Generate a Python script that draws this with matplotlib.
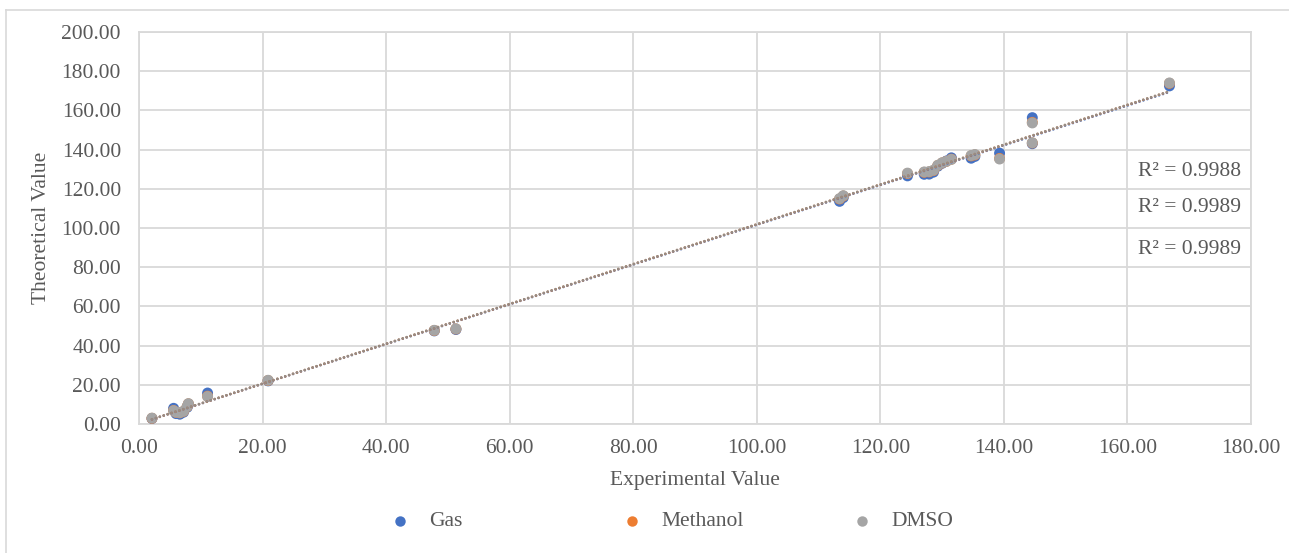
import numpy as np
import matplotlib
matplotlib.use("Agg")
import matplotlib.pyplot as plt
from matplotlib.lines import Line2D

# ---- data ----
experimental = [2.1, 5.6, 6.0, 6.6, 7.2, 7.8, 8.0, 11.1, 20.9, 47.8, 51.3,
                113.4, 114.0, 124.4, 127.1, 127.9, 128.6, 129.3, 130.0, 130.7,
                131.5, 134.7, 135.3, 139.3, 144.6, 144.6, 166.8]
gas = [2.8, 8.0, 5.3, 5.0, 6.0, 8.5, 10.0, 15.8, 22.0, 47.5, 48.2,
       113.6, 115.5, 126.6, 127.4, 127.5, 128.5, 131.5, 133.0, 134.2,
       135.8, 135.6, 136.5, 138.2, 156.3, 143.0, 172.5]
methanol = [2.9, 6.9, 5.9, 5.7, 6.4, 8.9, 10.3, 14.2, 22.2, 47.7, 48.5,
            114.8, 116.3, 127.8, 128.4, 128.6, 129.3, 131.9, 133.2, 134.0,
            135.1, 136.8, 137.3, 135.5, 153.9, 143.4, 173.8]
dmso = [3.0, 6.8, 6.0, 5.8, 6.5, 9.0, 10.4, 14.0, 22.3, 47.8, 48.6,
        115.0, 116.5, 128.0, 128.6, 128.8, 129.5, 132.0, 133.3, 134.0,
        135.0, 137.0, 137.5, 135.2, 153.6, 143.5, 174.0]
series_names = ["Gas", "Methanol", "DMSO"]
r2_labels = ["R\u00b2 = 0.9988", "R\u00b2 = 0.9989", "R\u00b2 = 0.9989"]
x_ticks = [0, 20, 40, 60, 80, 100, 120, 140, 160, 180]
y_ticks = [0, 20, 40, 60, 80, 100, 120, 140, 160, 180, 200]

colors = ["#4472C4", "#ED7D31", "#A5A5A5"]
text_color = "#595959"
grid_color = "#D9D9D9"
FONT = ["Liberation Serif", "DejaVu Serif"]
plt.rcParams["font.family"] = FONT
FS = 15.5

W, H = 1289, 553
fig = plt.figure(figsize=(W / 100, H / 100), dpi=100)

# outer chart border (left/top visible)
fig.add_artist(Line2D([6 / W, 6 / W], [0, 1 - 10 / H], color=grid_color, lw=1.2))
fig.add_artist(Line2D([6 / W, 1], [1 - 10 / H, 1 - 10 / H], color=grid_color, lw=1.2))

left, right, top, bottom = 139, 1251, 32, 424
ax = fig.add_axes([left / W, 1 - bottom / H, (right - left) / W, (bottom - top) / H])

x = np.array(experimental)
ys = [np.array(gas), np.array(methanol), np.array(dmso)]

for y, c, name in zip(ys, colors, series_names):
    ax.scatter(x, y, s=62, color=c, edgecolors="none", zorder=3, label=name)

for y, c in zip(ys, ["#4472C4", "#ED7D31", "#928C87"]):
    k, b = np.polyfit(x, y, 1)
    xx = np.array([x.min(), x.max()])
    ax.plot(xx, k * xx + b, color=c, lw=1.9, linestyle=(0, (0.01, 1.55)),
            dash_capstyle="round", zorder=4)

ax.set_xlim(0, 180)
ax.set_ylim(0, 200)
ax.set_xticks(x_ticks)
ax.set_yticks(y_ticks)
ax.set_xticklabels([f"{v:.2f}" for v in x_ticks])
ax.set_yticklabels([f"{v:.2f}" for v in y_ticks])
ax.tick_params(axis="both", length=0, labelsize=FS, colors=text_color)
ax.tick_params(axis="x", pad=11)
ax.tick_params(axis="y", pad=13)
ax.grid(True, color=grid_color, lw=1.3)
ax.set_axisbelow(True)
for sp in ax.spines.values():
    sp.set_color(grid_color)
    sp.set_linewidth(1.3)

fig.text(695 / W, 1 - 480 / H, "Experimental Value", ha="center", va="center",
         fontsize=FS, color=text_color)
fig.text(42 / W, 1 - 228 / H, "Theoretical Value", ha="center", va="center",
         rotation=90, fontsize=FS, color=text_color)

# R^2 labels
for lab, yp in zip(r2_labels, [172, 207, 250]):
    fig.text(1241 / W, 1 - yp / H, lab, ha="right", va="center",
             fontsize=FS, color=text_color)

# legend: three entries at evenly spaced positions
for name, c, xp in zip(series_names, colors, [400, 632, 862]):
    fig.add_artist(Line2D([xp / W], [1 - 521 / H], marker="o", markersize=7.5,
                          color=c, markeredgewidth=0, linestyle="none"))
    fig.text((xp + 29) / W, 1 - 521 / H, name, ha="left", va="center",
             fontsize=FS, color=text_color)

fig.savefig("out.png", dpi=100, facecolor="white")
